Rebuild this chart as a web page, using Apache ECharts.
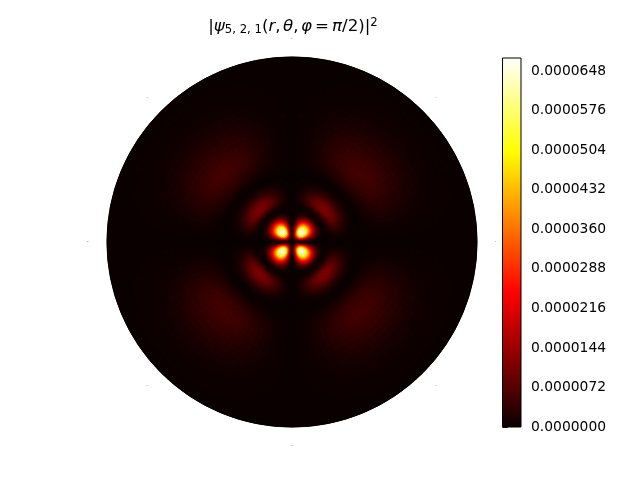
<!DOCTYPE html>
<html><head><meta charset="utf-8">
<script src="https://cdn.jsdelivr.net/npm/echarts@6/dist/echarts.min.js"></script>
<style>html,body{margin:0;padding:0;background:#fff}#c{width:640px;height:480px}</style>
</head><body><div id="c"></div>
<script>
// Radial cell edges (a.u.) and the density read along the 45 degree diagonal, in units of 1e-7.
var radialEdges = [0,0.5,1,1.5,2,2.5,3,3.5,4,4.5,5,5.5,6,6.5,7,7.5,8,8.5,9,9.5,10,10.5,11,11.5,12,
  13,14,15,16,17,18,19,20,21,22,23,24,25,26,27,28,29,30,
  31.25,32.5,33.75,35,36.25,37.5,38.75,40,41.25,42.5,43.75,45,47.5,50,52.5,55,57.5,60,62.5,65,67.5,70,72.5,75];
var radialDensity = [0,3,18,55,130,235,350,470,570,640,672,672,645,600,540,480,415,345,280,220,165,118,78,46,
  14,2,12,40,80,110,118,110,92,70,48,30,16,6,1,1,4,9,
  18,27,35,43,49,54,57,58,57,54,51,47,41,33,26,19,14,9,6,4,2,1,0.5,0.2];
// Share of the diagonal density seen at each 3 degree step away from an axis (0-45 degrees).
var angularShare = [0.003,0.025,0.067,0.128,0.206,0.297,0.396,0.5,0.604,0.703,0.794,0.872,0.933,0.976,0.997];
var colorTicks = [0,0.0000072,0.0000144,0.0000216,0.0000288,0.000036,0.0000432,0.0000504,0.0000576,0.0000648];
var angleTicks = 45, cellStep = 3, densityMax = 0.0000672;
var hotStops = [[0,[11,0,0]],[0.365,[255,0,0]],[0.746,[255,255,0]],[1,[255,255,255]]];

function hotAt(t){
  for (var k=1;k<hotStops.length;k++){
    if (t<=hotStops[k][0]){
      var a=hotStops[k-1],b=hotStops[k],u=(t-a[0])/(b[0]-a[0]);
      return 'rgb('+a[1].map(function(c,n){return Math.round(c+(b[1][n]-c)*u);}).join(',')+')';
    }
  }
  return '#fff';
}
var hotList=[]; for (var h=0;h<=128;h++) hotList.push(hotAt(h/128));

var cells=[];
for (var i=0;i<radialDensity.length;i++){
  for (var j=0;j<360/cellStep;j++){
    var q=j%30, idx=q<15?q:29-q;
    cells.push([(radialEdges[i]+radialEdges[i+1])/2,(j+0.5)*cellStep,radialDensity[i]*angularShare[idx]*1e-7,
      radialEdges[i],radialEdges[i+1],j*cellStep,(j+1)*cellStep]);
  }
}
// Paint dim cells first so that the seam strokes never eat into the bright lobes.
cells.sort(function(a,b){return a[2]-b[2];});

var chart=echarts.init(document.getElementById('c'),null,{renderer:'canvas'});
chart.setOption({
  animation:false,
  backgroundColor:'#fff',
  textStyle:{fontFamily:'DejaVu Sans'},
  title:{
    left:288,top:12,textAlign:'center',
    text:'{n||}{i|ψ}{s|5, 2, 1}{n|(}{i|r}{c|,}{i|θ}{c|,}{i|φ}{e|=}{i|π}{n|/2)|}{p|2}',
    textStyle:{fontWeight:'normal',rich:{
      n:{fontFamily:'DejaVu Sans',fontWeight:'normal',fontSize:16.67,color:'#000'},
      i:{fontFamily:'DejaVu Sans',fontWeight:'normal',fontStyle:'italic',fontSize:16.67,color:'#000'},
      c:{fontFamily:'DejaVu Sans',fontWeight:'normal',fontSize:16.67,color:'#000',padding:[0,2.5,0,0]},
      e:{fontFamily:'DejaVu Sans',fontWeight:'normal',fontSize:16.67,color:'#000',padding:[0,3,0,3]},
      s:{fontFamily:'DejaVu Sans',fontWeight:'normal',fontSize:11.7,color:'#000',padding:[7,0,0,0]},
      p:{fontFamily:'DejaVu Sans',fontWeight:'normal',fontSize:11.7,color:'#000',padding:[0,0,7,0]}
    }}
  },
  polar:{center:[292,242],radius:185},
  radiusAxis:{min:0,max:75,show:false},
  angleAxis:{
    type:'value',min:0,max:360,interval:angleTicks,startAngle:0,clockwise:false,z:5,
    axisLine:{show:true,lineStyle:{color:'#000',width:1}},
    axisTick:{show:false},splitLine:{show:false},
    axisLabel:{show:true,fontSize:1,color:'#000',margin:18,formatter:function(v){return v+'°';}}
  },
  grid:{left:502.5,width:18.5,top:58,height:369,containLabel:false},
  xAxis:{type:'value',min:0,max:1,show:false},
  yAxis:{
    type:'value',min:0,max:densityMax,position:'right',
    axisLine:{show:false},splitLine:{show:false},
    axisTick:{show:true,length:5,lineStyle:{color:'#000',width:1},customValues:colorTicks},
    axisLabel:{color:'#000',fontSize:13.89,fontFamily:'DejaVu Sans',margin:10,padding:[4,0,0,0],
      customValues:colorTicks,formatter:function(v){return v.toFixed(7);}}
  },
  visualMap:{show:false,type:'continuous',seriesIndex:0,dimension:2,min:0,max:densityMax,inRange:{color:hotList}},
  series:[{
    type:'custom',coordinateSystem:'polar',z:2,
    encode:{radius:0,angle:1},
    data:cells,clip:false,
    renderItem:function(params,api){
      var cx=params.coordSys.cx,cy=params.coordSys.cy;
      var p0=api.coord([api.value(4),api.value(5)]),p1=api.coord([api.value(4),api.value(6)]);
      var pi=api.coord([api.value(3),api.value(5)]);
      var a0=Math.atan2(p0[1]-cy,p0[0]-cx),a1=Math.atan2(p1[1]-cy,p1[0]-cx),d=a1-a0;
      while(d>Math.PI)d-=2*Math.PI; while(d<-Math.PI)d+=2*Math.PI;
      var col=api.visual('color');
      return {type:'sector',
        shape:{cx:cx,cy:cy,r0:Math.hypot(pi[0]-cx,pi[1]-cy),r:Math.hypot(p0[0]-cx,p0[1]-cy),
          startAngle:Math.min(a0,a0+d),endAngle:Math.max(a0,a0+d),clockwise:true},
        style:{fill:col,stroke:col,lineWidth:0.5,opacity:1}};
    }
  },{
    type:'custom',coordinateSystem:'cartesian2d',
    data:[[0,0,1,densityMax]],clip:false,
    encode:{x:[0,2],y:[1,3]},
    renderItem:function(params,api){
      var a=api.coord([api.value(0),api.value(1)]),b=api.coord([api.value(2),api.value(3)]);
      return {type:'rect',shape:{x:a[0],y:b[1],width:b[0]-a[0],height:a[1]-b[1]},
        style:{stroke:'#000',lineWidth:1,fill:new echarts.graphic.LinearGradient(0,1,0,0,
          hotStops.map(function(s){return {offset:s[0],color:'rgb('+s[1].join(',')+')'};}))}};
    }
  },{
    // Dark backing disc so that hairline gaps between the cells do not show the white page.
    type:'custom',coordinateSystem:'polar',z:1,silent:true,
    encode:{radius:0,angle:1},
    data:[[75,0]],clip:false,
    renderItem:function(params,api){
      var cx=params.coordSys.cx,cy=params.coordSys.cy,p=api.coord([api.value(0),api.value(1)]);
      return {type:'circle',shape:{cx:cx,cy:cy,r:Math.hypot(p[0]-cx,p[1]-cy)},style:{fill:'rgb(11,0,0)'}};
    }
  }]
});
</script></body></html>
